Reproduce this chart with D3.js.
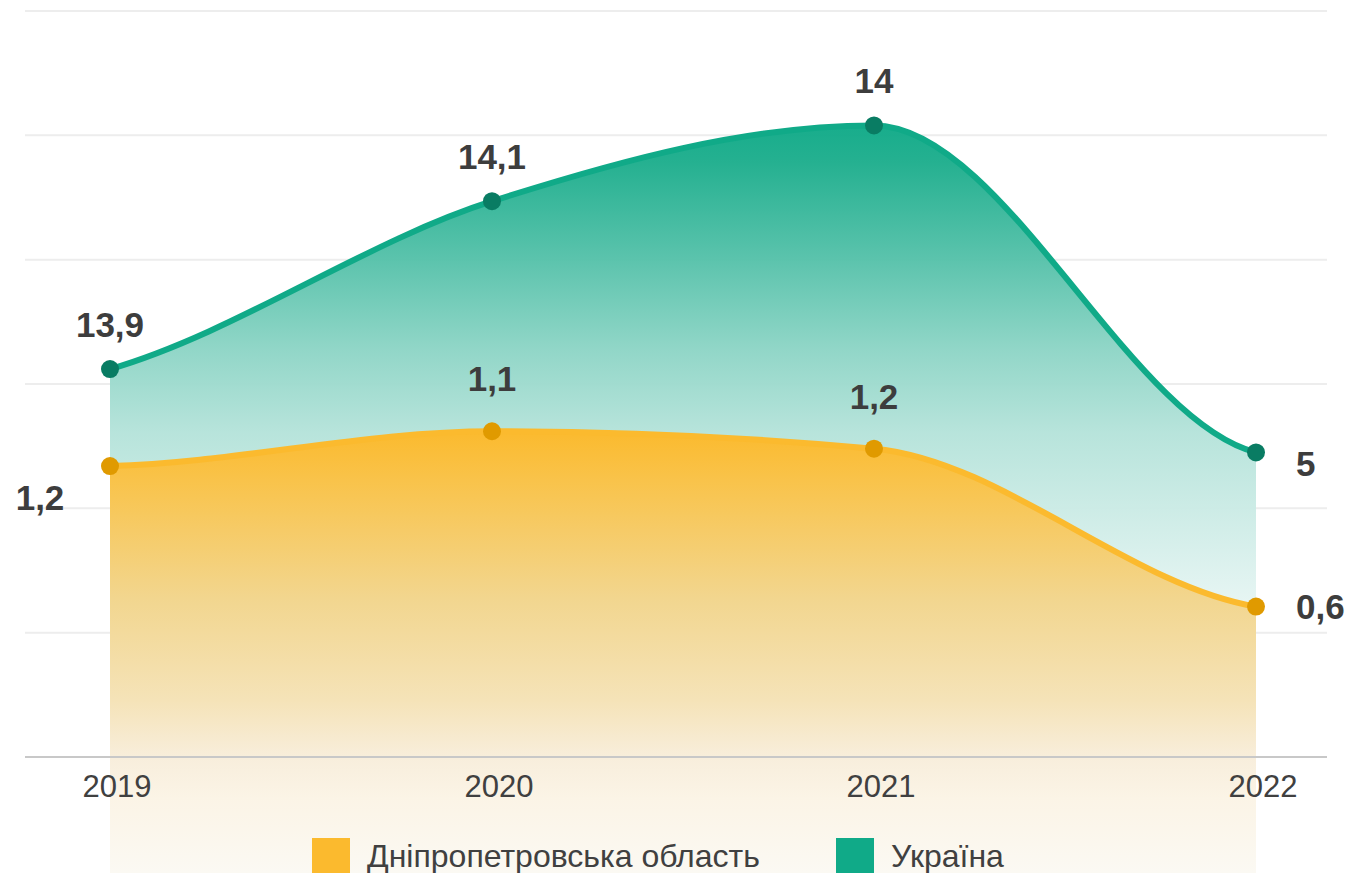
<!DOCTYPE html>
<html>
<head>
<meta charset="utf-8">
<script src="https://cdn.jsdelivr.net/npm/d3@7"></script>
<style>
  body { margin: 0; background: #fff; }
  svg { display: block; font-family: "Liberation Sans", Arial, sans-serif; }
</style>
</head>
<body>
<div id="chart"></div>
<script>
// data
const years = ["2019", "2020", "2021", "2022"];
// plotted heights (in gridline units), as drawn in the picture
const dnipro = [2.34, 2.62, 2.48, 1.21];
const ukraine = [3.12, 4.47, 5.08, 2.45];
// printed value labels
const dniproLabels = ["1,2", "1,1", "1,2", "0,6"];
const ukraineLabels = ["13,9", "14,1", "14", "5"];
const gridTicks = [0, 1, 2, 3, 4, 5, 6];
const seriesNames = ["Дніпропетровська область", "Україна"];

const width = 1347, height = 873;

const svg = d3.select("#chart")
    .append("svg")
    .attr("width", width)
    .attr("height", height);

const x = d3.scalePoint()
    .domain(years)
    .range([110, 1256]);

const y = d3.scaleLinear()
    .domain([0, 6])
    .range([757, 11]);

// smooth curve: monotone tangents inside, soft tangents at the ends
function SoftCurve(context) { this._context = context; }
SoftCurve.prototype = {
    areaStart: function () { this._line = 0; },
    areaEnd: function () { this._line = NaN; },
    lineStart: function () { this._xs = []; this._ys = []; },
    point: function (px, py) { this._xs.push(+px); this._ys.push(+py); },
    lineEnd: function () {
        const xs = this._xs, ys = this._ys, n = xs.length, c = this._context;
        if (n) {
            if (this._line) c.lineTo(xs[0], ys[0]); else c.moveTo(xs[0], ys[0]);
            const s = [], m = [];
            for (let i = 0; i < n - 1; i++) s.push((ys[i + 1] - ys[i]) / (xs[i + 1] - xs[i]));
            for (let i = 1; i < n - 1; i++) {
                if (s[i - 1] * s[i] <= 0) { m[i] = 0; continue; }
                const h0 = xs[i] - xs[i - 1], h1 = xs[i + 1] - xs[i];
                const p = (s[i - 1] * h1 + s[i] * h0) / (h0 + h1);
                m[i] = Math.sign(s[i]) * Math.min(Math.abs(s[i - 1]), Math.abs(s[i]), 0.5 * Math.abs(p)) * 2;
            }
            if (n > 1) {
                m[0] = n > 2 ? 0.3 * s[0] + 0.5 * m[1] : s[0];
                m[n - 1] = n > 2 ? 0.3 * s[n - 2] + 0.5 * m[n - 2] : s[n - 2];
            }
            for (let i = 0; i < n - 1; i++) {
                const h = xs[i + 1] - xs[i];
                c.bezierCurveTo(xs[i] + h / 3, ys[i] + m[i] * h / 3,
                    xs[i + 1] - h / 3, ys[i + 1] - m[i + 1] * h / 3,
                    xs[i + 1], ys[i + 1]);
            }
        }
        if (this._line || (this._line !== 0 && n === 1)) c.closePath();
        this._line = 1 - this._line;
    }
};
const curve = ctx => new SoftCurve(ctx);

const defs = svg.append("defs");

// vertical fades for the two areas (colours)
function fade(id, top, stops) {
    const g = defs.append("linearGradient")
        .attr("id", id)
        .attr("gradientUnits", "userSpaceOnUse")
        .attr("x1", 0).attr("x2", 0)
        .attr("y1", top).attr("y2", height);
    stops.forEach(s => g.append("stop")
        .attr("offset", s[0])
        .attr("stop-color", s[1]));
}
fade("gradGreen", y(d3.max(ukraine)), [
    [0, "#10aa88"], [0.05, "#1eae8d"], [0.17, "#52c0a8"], [0.3, "#8ed5c6"],
    [0.41, "#b5e3da"], [0.64, "#e6f5f3"], [1, "#f7fbfa"]]);
fade("gradOrange", y(d3.max(dnipro)), [
    [0, "#fbba2e"], [0.11, "#f9c34a"], [0.38, "#f2d68f"], [0.61, "#f5e3b8"],
    [0.74, "#f8eedc"], [0.83, "#fbf4e6"], [1, "#fbf9f3"]]);

// gridlines
svg.append("g")
    .selectAll("line")
    .data(gridTicks.slice(1))
    .join("line")
    .attr("x1", 25)
    .attr("x2", 1327)
    .attr("y1", d => y(d))
    .attr("y2", d => y(d))
    .attr("stroke", "#ededed")
    .attr("stroke-width", 2);

const area = d3.area()
    .x((d, i) => x(years[i]))
    .y0(height)
    .y1(d => y(d))
    .curve(curve);

const line = d3.line()
    .x((d, i) => x(years[i]))
    .y(d => y(d))
    .curve(curve);

svg.append("path")
    .datum(ukraine)
    .attr("d", area)
    .attr("fill", "url(#gradGreen)")
    .attr("fill-opacity", 0.97);

svg.append("path")
    .datum(dnipro)
    .attr("d", area)
    .attr("fill", "url(#gradOrange)");

// x axis line
svg.append("line")
    .attr("x1", 25)
    .attr("x2", 1327)
    .attr("y1", y(0))
    .attr("y2", y(0))
    .attr("stroke", "#c8c8c8")
    .attr("stroke-width", 2);

// year labels
svg.append("g")
    .selectAll("text")
    .data(years)
    .join("text")
    .attr("x", d => x(d) + 7)
    .attr("y", 797)
    .attr("text-anchor", "middle")
    .attr("fill", "#404040")
    .style("font-size", "31px")
    .text(d => d);

const series = [
    {values: ukraine, labels: ukraineLabels, line: "#10aa88", dot: "#097c63", above: 32},
    {values: dnipro, labels: dniproLabels, line: "#fbba2e", dot: "#e09a00", above: 40}
];

series.forEach((s, k) => {
    svg.append("path")
        .datum(s.values)
        .attr("d", line)
        .attr("fill", "none")
        .attr("stroke", s.line)
        .attr("stroke-width", 6);

    svg.append("g")
        .selectAll("circle")
        .data(s.values)
        .join("circle")
        .attr("cx", (d, i) => x(years[i]))
        .attr("cy", d => y(d))
        .attr("r", 9)
        .attr("fill", s.dot);

    // value labels: above the dot, last one to the right,
    // first orange one pushed down-left so it clears the green area
    svg.append("g")
        .selectAll("text")
        .data(s.values)
        .join("text")
        .attr("x", (d, i) => {
            if (i === years.length - 1) return x(years[i]) + 40;
            if (k === 1 && i === 0) return x(years[i]) - 70;
            return x(years[i]);
        })
        .attr("y", (d, i) => {
            if (i === years.length - 1) return y(d) + (k === 0 ? 24 : 12);
            if (k === 1 && i === 0) return y(d) + 44;
            return y(d) - s.above;
        })
        .attr("text-anchor", (d, i) => i === years.length - 1 ? "start" : "middle")
        .attr("fill", "#3d3d3d")
        .style("font-size", "35px")
        .style("font-weight", "bold")
        .text((d, i) => s.labels[i]);
});

// legend
const legendColors = ["#fbba2e", "#10aa88"];
const legendX = [312, 836];
const legend = svg.append("g")
    .selectAll("g")
    .data(seriesNames)
    .join("g")
    .attr("transform", (d, i) => "translate(" + legendX[i] + ",838)");

legend.append("rect")
    .attr("width", 38)
    .attr("height", 38)
    .attr("fill", (d, i) => legendColors[i]);

legend.append("text")
    .attr("x", 55)
    .attr("y", 29)
    .attr("fill", "#404040")
    .style("font-size", "32px")
    .text(d => d);
</script>
</body>
</html>
